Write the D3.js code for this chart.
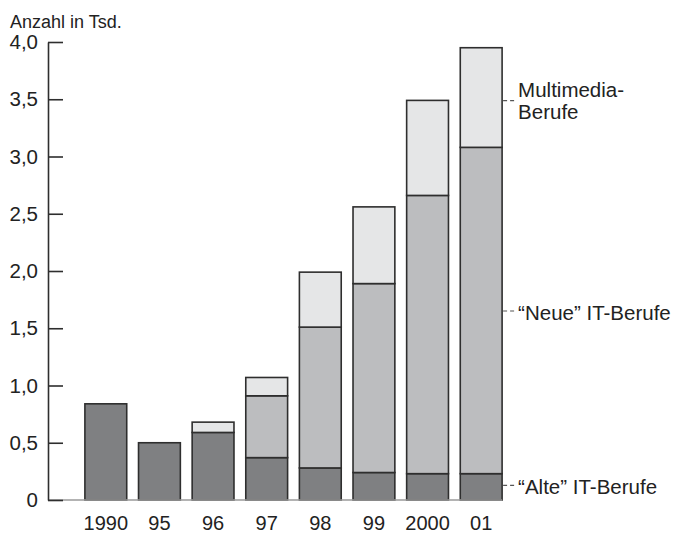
<!DOCTYPE html>
<html>
<head>
<meta charset="utf-8">
<script src="https://cdn.jsdelivr.net/npm/d3@7/dist/d3.min.js"></script>
<style>
  html, body { margin: 0; padding: 0; background: #fff; }
  svg { display: block; font-family: "Liberation Sans", Arial, sans-serif; }
</style>
</head>
<body>
<svg id="chart" width="677" height="534"></svg>
<script>
const categories = ["1990", "95", "96", "97", "98", "99", "2000", "01"];
const alteIT     = [0.84, 0.50, 0.59, 0.37, 0.28, 0.24, 0.23, 0.23];
const neueIT     = [0.00, 0.00, 0.00, 0.54, 1.23, 1.65, 2.43, 2.85];
const multimedia = [0.00, 0.00, 0.09, 0.16, 0.48, 0.67, 0.83, 0.87];
const seriesNames = ["alte", "neue", "multi"];
const seriesLabels = [["“Alte” IT-Berufe"], ["“Neue” IT-Berufe"], ["Multimedia-", "Berufe"]];
const yTicks = [0, 0.5, 1.0, 1.5, 2.0, 2.5, 3.0, 3.5, 4.0];
const yTitle = "Anzahl in Tsd.";

const colors = { alte: "#7f8082", neue: "#bcbdbf", multi: "#e5e6e7" };

const data = categories.map((c, i) => ({ cat: c, alte: alteIT[i], neue: neueIT[i], multi: multimedia[i] }));

const svg = d3.select("#chart");
const axisX = 48, baseY = 500, topY = 42;

const x = d3.scaleBand().domain(categories).range([79, 508]).paddingInner(0.22).paddingOuter(0.11);
const y = d3.scaleLinear().domain([0, 4]).range([baseY, topY]);

const stack = d3.stack().keys(seriesNames);
const stacked = stack(data);

// bars
const g = svg.append("g");
stacked.forEach(layer => {
  g.selectAll(null)
    .data(layer.filter(d => d[1] - d[0] > 0))
    .enter().append("rect")
    .attr("x", d => x(d.data.cat))
    .attr("width", x.bandwidth())
    .attr("y", d => y(d[1]))
    .attr("height", d => y(d[0]) - y(d[1]))
    .attr("fill", colors[layer.key])
    .attr("stroke", "#2e2e2e")
    .attr("stroke-width", 1.6);
});

// baseline
svg.append("line")
  .attr("x1", axisX).attr("x2", x(categories[categories.length - 1]) + x.bandwidth())
  .attr("y1", y(0)).attr("y2", y(0))
  .attr("stroke", "#9a9a9a").attr("stroke-width", 1.5);

// y axis
const yAxis = d3.axisLeft(y)
  .tickValues(yTicks)
  .tickSizeInner(-15)
  .tickSizeOuter(0)
  .tickPadding(10)
  .tickFormat(v => v === 0 ? "0" : v.toFixed(1).replace(".", ","));
const ya = svg.append("g").attr("transform", `translate(${axisX},0)`).call(yAxis);
ya.select(".domain").attr("stroke", "#2e2e2e").attr("stroke-width", 1.6);
ya.selectAll(".tick line").attr("stroke", "#2e2e2e").attr("stroke-width", 1.6);
ya.selectAll(".tick text")
  .attr("font-size", 20.5).attr("fill", "#222")
  .attr("font-family", "Liberation Sans, Arial, sans-serif");

// x axis labels
const xAxis = d3.axisBottom(x).tickSize(0).tickPadding(16);
const xa = svg.append("g").attr("transform", `translate(0,${baseY})`).call(xAxis);
xa.select(".domain").remove();
xa.selectAll(".tick text")
  .attr("font-size", 20).attr("fill", "#222")
  .attr("font-family", "Liberation Sans, Arial, sans-serif");

// y title
svg.append("text")
  .attr("x", 10).attr("y", 28)
  .attr("font-size", 18).attr("fill", "#222")
  .text(yTitle);

// series labels with dashed leaders, placed at the last bar's segment mid
const last = data.length - 1;
const lastRight = x(categories[last]) + x.bandwidth();
const labelY = [y((stacked[0][last][0] + stacked[0][last][1]) / 2) - 1.5,
                y((stacked[1][last][0] + stacked[1][last][1]) / 2) + 0.5,
                y((stacked[2][last][0] + stacked[2][last][1]) / 2) + 3];
stacked.forEach((layer, k) => {
  const ly = labelY[k];
  svg.append("line")
    .attr("x1", lastRight + 1).attr("x2", lastRight + 14)
    .attr("y1", ly).attr("y2", ly)
    .attr("stroke", "#555").attr("stroke-width", 1.2)
    .attr("stroke-dasharray", "4,3");
  const lines = seriesLabels[k];
  const t = svg.append("text")
    .attr("x", lastRight + 16)
    .attr("font-size", 20.5).attr("fill", "#222");
  if (lines.length === 1) {
    t.attr("y", ly + 8.5).text(lines[0]);
  } else {
    t.attr("y", ly - 4).text(lines[0]);
    svg.append("text").attr("x", lastRight + 16).attr("y", ly + 18)
      .attr("font-size", 20.5).attr("fill", "#222").text(lines[1]);
  }
});
</script>
</body>
</html>
